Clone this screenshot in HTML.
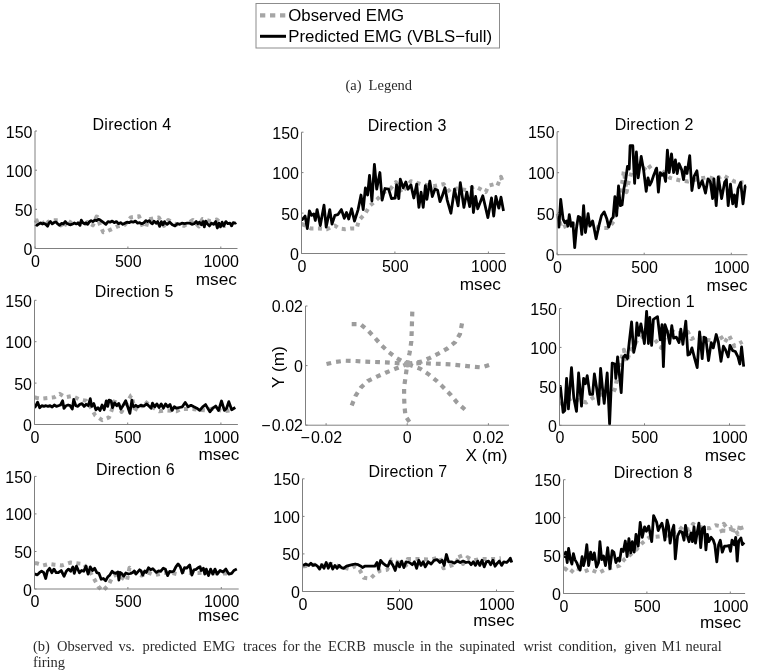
<!DOCTYPE html>
<html><head><meta charset="utf-8"><style>
html,body{margin:0;padding:0;background:#fff;}
body{width:757px;height:671px;overflow:hidden;}
svg{display:block;filter:blur(0.35px);}
.t{font-family:"Liberation Sans",sans-serif;font-size:16px;fill:#000;}
.ti{font-family:"Liberation Sans",sans-serif;font-size:16px;letter-spacing:0.22px;fill:#000;}
.lb{font-family:"Liberation Sans",sans-serif;font-size:17.2px;fill:#000;}
.lg{font-family:"Liberation Sans",sans-serif;font-size:16.8px;fill:#000;}
.c{font-family:"Liberation Serif",serif;font-size:14.5px;fill:#2a2a2a;}
.g{fill:none;stroke:#a6a6a6;stroke-width:4;stroke-dasharray:4 4.5;stroke-linejoin:round;}
.g2{fill:none;stroke:#9c9c9c;stroke-width:4.2;stroke-dasharray:4.8 5;}
.k{fill:none;stroke:#000;stroke-width:2.8;stroke-linejoin:round;}
.ax{fill:none;stroke:#808080;stroke-width:1;}
.tk{fill:none;stroke:#808080;stroke-width:1;}
</style></head><body>
<svg width="757" height="671" viewBox="0 0 757 671">
<polyline class="g" points="35.5,220.3 35.8,220.3 36,221.1 40.6,219.3 44.8,226.2 48.5,221.6 53.1,220.2 58.7,220.2 63.3,228.5 67,220.2 71.6,223 75.3,222.5 79,223.4 83.7,225.3 87.4,222 92.9,225.3 96.6,216.5 97.4,216.9 100,224.8 103.2,232.2 106.4,231.7 117.5,226.4 124.9,224.8 130.7,217.4 139.1,216.3 142.8,226.9 146,227.4 148.1,219.5 158.7,217.4 164,225.9 168.2,220 174.5,223.7 184,225.9 193,220 198.8,226.4 202.5,219 210.4,221.1 216.8,219.5 224.2,225.9 232.6,224.8"/>
<polyline class="k" points="35.5,224.7 35.6,224.8 36.9,225.3 38.8,223.9 40.6,223 42.5,223.9 43.9,223.4 45.7,224.3 47.6,226.2 49,223 50.4,221.6 52.2,223.9 54.1,222.5 55.9,222 57.8,223.9 59.6,225.3 61.5,223.4 63.3,223.9 65.2,221.6 67,223.4 68.9,224.3 70.7,224.8 72.6,223.9 74.4,223 76.3,223.9 78.1,223 80,225.3 81.3,220.2 82.7,222.5 84.6,223.9 86,223 87.8,224.3 89.2,222 91.1,220.6 92.9,221.6 94.8,220.2 96.6,220.6 98.5,219.3 99.5,219.5 101.6,221.1 103.7,222.7 105.9,224.3 108,221.6 110.1,222.2 112.2,221.1 114.3,222.7 116.4,221.6 118.5,223.7 120.6,222.7 122.8,224.3 124.9,223.2 127,222.2 129.1,222.7 131.2,221.6 133.3,222.2 135.4,221.1 137.6,223.2 139.7,222.7 141.8,223.7 143.9,222.7 146,220.6 147.6,221.6 149.2,220.6 150.8,222.7 152.4,223.7 153.9,221.1 156.1,223.2 157.6,221.6 159.7,226.4 161.3,221.6 162.9,224.8 164.5,221.6 165,222.7 167.1,224.3 169.8,222.2 172.4,224.8 175,225.9 177.2,223.7 179.8,224.3 181.9,223.2 184.6,223.7 187.2,223.2 189.8,223.2 191.9,224.3 194.1,223.7 196.2,221.6 197.8,223.7 199.3,222.2 201.5,224.8 203,221.6 204.3,226.9 205.7,221.1 207.3,223.7 209.4,225.9 211.5,223.2 213.6,224.3 215.7,221.6 217.3,228 218.9,223.2 220.5,226.9 222.1,222.2 223.7,225.9 225.8,221.6 227.9,223.7 230,223.2 231.6,225.9 233.2,222.7 235.3,223.2 236.1,222.5"/>
<path class="ax" d="M35 131V248.5H237.5"/>
<path class="tk" d="M35 248.5h2"/>
<text class="t" x="32.5" y="255" text-anchor="end">0</text>
<path class="tk" d="M35 209.3h2"/>
<text class="t" x="32.5" y="215.8" text-anchor="end">50</text>
<path class="tk" d="M35 170.2h2"/>
<text class="t" x="32.5" y="176.7" text-anchor="end">100</text>
<path class="tk" d="M35 131h2"/>
<text class="t" x="32.5" y="137.5" text-anchor="end">150</text>
<path class="tk" d="M35 248.5v-2"/>
<text class="t" x="35.4" y="266.5" text-anchor="middle">0</text>
<path class="tk" d="M127.9 248.5v-2"/>
<text class="t" x="128.3" y="266.5" text-anchor="middle">500</text>
<path class="tk" d="M220.8 248.5v-2"/>
<text class="t" x="221.2" y="266.5" text-anchor="middle">1000</text>
<text class="ti" x="92.6" y="130.3">Direction 4</text>
<text class="lb" x="195.8" y="284.6">msec</text>
<polyline class="g" points="302,224.1 302.2,224.1 310.9,228.5 318.9,228.5 326.9,229.2 334.9,225.6 339.2,228.5 345,229.2 350.9,228.5 356.7,228.5 358.8,220.5 365.4,213.2 369.7,205.9 377,199.4 384.3,192.1 390.1,189.2 395.9,182 401.7,192.9 410.9,181.2 421.1,184.1 433.4,186.3 443.6,184.1 450.1,192.1 456.7,188.5 466.1,190 474.8,186.3 479.2,188.5 485.7,192.1 488.6,185.6 494.4,184.1 497.4,185.6 501,176.9 503.2,183.4"/>
<polyline class="k" points="302,219.7 302.2,219.7 305.1,216.1 307.3,228.5 309.4,211 311.6,215.4 313.8,213.9 315.3,220.5 317.1,209.6 320.3,225.6 324,205.2 326.2,227 329.8,209.6 332,224.1 334.9,215.4 337.8,214.7 341.4,209.6 344.3,218.3 346.5,212.5 348.7,219 351.6,208.8 354.5,221.2 358.1,209.6 361,195 363.2,209.6 365.4,187.8 367.6,195 369.5,175.4 371.9,200.9 374.4,164.5 376.7,189.2 379.9,172.5 382.1,200.1 385,188.5 388.6,189.2 391.5,198.7 395.2,198 396.6,184.9 398.8,198.7 400.3,179.1 403.2,187.8 405.8,182 408,189.2 410.9,184.9 413.8,198 416.7,184.1 418.9,207.4 421.1,192.1 423.2,207.4 425.4,185.6 426.9,199.4 429.8,181.2 432.3,196.5 434.9,189.2 437.5,190 440,201.6 442.1,196.5 445,187.8 447.2,200.1 450.9,213.2 454.5,189.2 458.1,205.9 460.3,182.7 463.9,207.4 466.8,192.1 469.7,206.7 471.9,186.3 473.4,212.5 475.6,196.5 477.7,208.8 482.8,195.8 487.9,217.6 491.5,198 493.7,216.1 495.9,196.5 498.8,208.1 501,197.2 503.5,211"/>
<path class="ax" d="M301.5 132.2V253.5H505.2"/>
<path class="tk" d="M301.5 253.5h2"/>
<text class="t" x="299" y="260" text-anchor="end">0</text>
<path class="tk" d="M301.5 213.1h2"/>
<text class="t" x="299" y="219.6" text-anchor="end">50</text>
<path class="tk" d="M301.5 172.6h2"/>
<text class="t" x="299" y="179.1" text-anchor="end">100</text>
<path class="tk" d="M301.5 132.2h2"/>
<text class="t" x="299" y="138.7" text-anchor="end">150</text>
<path class="tk" d="M301.5 253.5v-2"/>
<text class="t" x="301.9" y="271.5" text-anchor="middle">0</text>
<path class="tk" d="M394.9 253.5v-2"/>
<text class="t" x="395.3" y="271.5" text-anchor="middle">500</text>
<path class="tk" d="M488.4 253.5v-2"/>
<text class="t" x="488.8" y="271.5" text-anchor="middle">1000</text>
<text class="ti" x="367.7" y="131.2">Direction 3</text>
<text class="lb" x="459.8" y="289.5">msec</text>
<polyline class="g" points="557.6,213.7 557.7,213.7 561.3,228 565.7,226.2 571.1,224.4 578.3,222.7 590.8,224.4 599.7,228 608.7,228 614,220.9 619.4,195.8 622.1,183.3 623.9,170.8 625.7,185.1 626.6,192.2 628.3,183.3 631.9,170.8 639.1,170.8 644.4,169 648,164.5 652.5,170.8 661.1,169.9 670,177.9 680.8,180.6 687.9,181.5 698.7,178.8 708.5,177 715.7,179.7 722.8,175.3 734.4,181.5 743.4,182.4"/>
<polyline class="k" points="557.6,217.3 558.2,217.3 558.9,227.1 560.7,199.4 563.1,219.1 564.8,222.7 566.6,220.9 567.9,226.2 569.3,214.6 571.1,226.2 572.9,222.7 574.7,247.7 576.5,228 578.3,216.4 580,217.3 581.8,234.3 583.6,205.7 585.4,232.5 588.1,213.7 589.9,226.2 592.6,220.9 594.4,229.8 596.1,238.8 598.8,226.2 601.5,215.5 604.2,211.9 606.9,219.1 608.7,227.1 611.4,219.1 613.1,217.3 614.9,196.7 616.7,215.5 618.5,186 620.3,205.7 622.1,204.8 623.9,188.7 625.7,179.7 627.5,166.3 629.2,169 630.1,145.7 632.8,145.7 634.6,183.3 636.4,152 638.2,177.9 641.2,156.5 643.6,169.9 646.2,191.4 648,177.9 649.8,185.1 651.6,181.5 653.4,176.1 656.6,168.1 658.4,192.2 660.2,172.6 662,175.3 663.8,173.5 665.6,181.5 667.4,150.2 669.2,172.6 671.5,153.8 673.6,172.6 675.4,160 677.2,173.5 679,163.6 681.7,169.9 683.5,179.7 685.3,167.2 687,173.5 689.7,155.6 691.9,190.5 694.2,176.1 696.9,170.8 699,187.8 702.2,180.6 705.5,193.1 708,178.8 710.3,181.5 712.6,198.5 713.9,178.8 716.2,205.7 718.3,177 721.6,198.5 724.6,182.4 726.4,179.7 728.2,205.7 730.5,184.2 732.7,203.9 734.4,194.9 736.2,206.6 738,188.7 740.7,182.4 743,203.9 745.2,186 746.1,186"/>
<path class="ax" d="M557.1 131.7V254.7H747.4"/>
<path class="tk" d="M557.1 254.7h2"/>
<text class="t" x="554.6" y="261.2" text-anchor="end">0</text>
<path class="tk" d="M557.1 213.7h2"/>
<text class="t" x="554.6" y="220.2" text-anchor="end">50</text>
<path class="tk" d="M557.1 172.7h2"/>
<text class="t" x="554.6" y="179.2" text-anchor="end">100</text>
<path class="tk" d="M557.1 131.7h2"/>
<text class="t" x="554.6" y="138.2" text-anchor="end">150</text>
<path class="tk" d="M557.1 254.7v-2"/>
<text class="t" x="557.5" y="272.7" text-anchor="middle">0</text>
<path class="tk" d="M644.2 254.7v-2"/>
<text class="t" x="644.6" y="272.7" text-anchor="middle">500</text>
<path class="tk" d="M731.3 254.7v-2"/>
<text class="t" x="731.7" y="272.7" text-anchor="middle">1000</text>
<text class="ti" x="614.8" y="129.6">Direction 2</text>
<text class="lb" x="706.6" y="290.5">msec</text>
<polyline class="g" points="35,397.6 35.8,397.6 36.9,398 41.1,398.7 48,398 54.3,397.3 59.8,393.9 65.4,397.3 72.3,396 79.2,399.4 86.2,400.8 91,407.7 95.2,415.4 102.1,420.2 109.1,417.4 111.8,409.8 115.3,399.4 121.5,411.9 131.2,395.3 131.5,395.2 134.4,408.2 138.7,410.4 144.5,401 151.8,406.8 159.1,411.2 164.9,410.4 176.5,411.2 180.9,409 192.5,409 205.6,410.4 214.3,408.2 223,411.2 230.3,410.4"/>
<polyline class="k" points="35,407.1 35.1,407.1 35.5,406.4 37.6,402.2 39.7,407.7 41.8,405.7 43.9,406.4 46,405.7 48,406.4 50.1,405.7 52.2,407 54.3,405 56.4,406.4 58.4,405.7 60.5,405 62.6,400.8 64,408.4 66.1,405.7 68.1,405 70.2,405.7 72.3,409.1 73.7,399.4 75.8,405.7 77.9,406.4 79.9,404.3 82,403.6 84.1,406.4 86.2,404.3 88.3,405.7 90.3,398.7 91.7,406.4 93.8,403.6 95.9,409.8 98,407.7 100,410.5 102.1,405 104.2,409.8 106.3,400.8 107.7,406.4 109.1,400.1 111.1,400.8 112.5,407.7 114.6,402.9 116.7,405.7 118.8,403.6 120.8,409.1 122.9,405.7 125.7,400.8 127.8,407 129.9,413.3 131.9,400.1 132.2,403.2 133.6,406.8 135.8,405.3 138,406.8 140.9,405.3 143.8,406.1 146.7,403.9 148.9,406.1 151.1,408.2 152.5,403.2 154.7,406.8 156.9,403.9 159.1,407.5 161.2,403.9 163.4,408.2 165.6,403.9 167.8,406.8 170,404.6 172.1,410.4 174.3,406.8 176.5,408.2 179.4,407.5 182.3,406.8 185.2,402.4 188.1,406.8 191,405.3 193.9,406.8 196.8,408.2 199.7,410.4 202.7,406.8 205.6,404.6 209.9,411.9 212.8,408.2 215.7,406.1 218.6,410.4 221.5,401 224.4,410.4 226.6,408.2 228.8,401.7 231.7,409.7 235.3,407.5"/>
<path class="ax" d="M34.5 300.3V424.5H237.9"/>
<path class="tk" d="M34.5 424.5h2"/>
<text class="t" x="32" y="431" text-anchor="end">0</text>
<path class="tk" d="M34.5 383.1h2"/>
<text class="t" x="32" y="389.6" text-anchor="end">50</text>
<path class="tk" d="M34.5 341.7h2"/>
<text class="t" x="32" y="348.2" text-anchor="end">100</text>
<path class="tk" d="M34.5 300.3h2"/>
<text class="t" x="32" y="306.8" text-anchor="end">150</text>
<path class="tk" d="M34.5 424.5v-2"/>
<text class="t" x="34.9" y="442.5" text-anchor="middle">0</text>
<path class="tk" d="M127.7 424.5v-2"/>
<text class="t" x="128.1" y="442.5" text-anchor="middle">500</text>
<path class="tk" d="M220.9 424.5v-2"/>
<text class="t" x="221.3" y="442.5" text-anchor="middle">1000</text>
<text class="ti" x="94.8" y="296.7">Direction 5</text>
<text class="lb" x="198.4" y="460.3">msec</text>
<polyline class="g" points="560,403.4 562.2,403.4 572,398 580,400.7 586.3,402.5 592.6,398 601.5,394.4 612.2,394.4 614.9,389.1 616.7,380.1 620.3,362.2 623.9,349.7 626.6,362.2 630.1,351.5 638.2,339 644.4,335.4 652.5,336.3 661.1,347.9 668.3,328.3 676.3,333.6 687.9,331.8 691.5,339 696.9,336.3 705.8,339.9 715.7,340.8 720.1,335.4 724.6,342.6 729.1,335.4 734.4,346.1 742.5,341.7"/>
<polyline class="k" points="560,386.4 560.4,386.4 563.1,412.3 564.8,410.5 566.6,378.3 568.4,408.8 571.5,367.6 573.8,398 576.5,411.4 578.6,373 581.5,406.1 583.6,378.3 585.4,383.7 587.2,375.7 589.9,394.4 592.6,394.4 594.4,373.9 596.5,387.3 598.8,404.3 600.6,368.5 602.4,387.3 604.2,403.4 607.2,373 609.6,424 612.2,363.1 614.9,364 615.8,378.3 617.6,356.9 619.4,374.8 621.2,392.7 623,357.8 625.1,355.1 627.5,358.7 629.2,342.6 631.6,322 633.7,352.4 635.5,344.4 636.9,322.9 638.7,335.4 640.9,323.8 642.7,333.6 644.4,343.5 646.6,311.3 648.4,343.5 649.8,317.5 651.6,345.3 653.4,319.3 657.5,316.6 660.2,339.9 662,324.7 663.4,366.7 665,324.7 667.4,331.8 669.7,343.5 671.8,325.6 673.6,338.1 676.3,337.2 679,342.6 680.8,329.2 682.9,344.4 685.8,321.1 687.9,355.1 689.7,354.2 691.9,347.9 694.7,358.7 697.2,367.6 699.6,331.8 702.2,358.7 704,337.2 705.8,338.1 708.5,360.5 711.2,342.6 713.3,347.9 716.2,334.5 718.3,341.7 721,361.4 723.4,346.1 725.5,349.7 728.2,356.9 730,345.3 732.7,350.6 735.3,351.5 738,356.9 739.8,364 741.6,347 743.7,366.7"/>
<path class="ax" d="M559.5 308.5V425.3H745.4"/>
<path class="tk" d="M559.5 425.3h2"/>
<text class="t" x="557" y="431.8" text-anchor="end">0</text>
<path class="tk" d="M559.5 386.4h2"/>
<text class="t" x="557" y="392.9" text-anchor="end">50</text>
<path class="tk" d="M559.5 347.4h2"/>
<text class="t" x="557" y="353.9" text-anchor="end">100</text>
<path class="tk" d="M559.5 308.5h2"/>
<text class="t" x="557" y="315" text-anchor="end">150</text>
<path class="tk" d="M559.5 425.3v-2"/>
<text class="t" x="559.9" y="443.3" text-anchor="middle">0</text>
<path class="tk" d="M644.5 425.3v-2"/>
<text class="t" x="644.9" y="443.3" text-anchor="middle">500</text>
<path class="tk" d="M729.5 425.3v-2"/>
<text class="t" x="729.9" y="443.3" text-anchor="middle">1000</text>
<text class="ti" x="615.9" y="306.6">Direction 1</text>
<text class="lb" x="704.7" y="460.5">msec</text>
<polyline class="g" points="35,563.2 36.5,563.2 43.1,565.4 48.9,564 54.7,564.7 62,565.4 70.7,562.5 76.5,563.2 83.8,564 91,573.4 93.9,578.5 98.3,586.5 102.7,590.9 108.5,585 112.8,576.3 117.2,574.1 124.2,579.3 126.9,580.9 129.5,567.7 131.6,570.3 136.9,573.5 141.7,575.6 147.5,572.4 154.9,575.1 163.9,573 169.7,572.4 176.5,574 183.4,571.9 190.8,573 198.2,573 205.6,572.7 220.1,573.4 231.7,573.4"/>
<polyline class="k" points="35,574.1 35.1,574.1 37.3,574.9 39.4,572.7 41.6,571.2 43.8,572.7 45.7,578.5 47.4,571.2 49.6,568.3 51.8,572.7 54,569.1 56.2,572.7 58.3,572.7 61.2,570.5 64.1,576.3 66.3,571.2 68.5,569.1 70.7,571.2 72.9,566.9 74.3,573.4 76.5,566.2 79.4,572.7 81.6,570.5 83.8,571.2 85.9,566.2 88.1,574.1 90.3,566.9 92.5,570.5 94.7,568.3 96.8,572.7 99,573.4 101.2,579.2 103.4,578.5 105.6,580.7 107.7,577.1 109.9,574.9 112.1,571.2 113.6,572.7 115.7,573.4 117.9,572 118.9,580 120,572.4 121.6,573.5 123.7,576.1 125.8,573 128.5,574 130.6,573.5 132.7,572.4 134.3,570.9 135.9,574 137.4,572.4 139.6,569.8 141.1,570.9 142.7,575.1 144.8,570.9 146.4,572.4 148.5,567.7 150.6,569.8 152.8,568.7 154.9,570.9 156.5,572.4 158.6,570.9 160.7,571.4 163.3,568.2 165.4,569.3 167.6,575.6 169.7,571.4 171.8,571.9 173.9,570.9 176,566.6 178.1,564 180.2,566.6 182.4,573 184.5,567.7 186.6,568.2 189.7,565 191.9,575.1 194,569.8 196.1,569.3 198.2,567.7 200,566.6 201.2,570.5 203.4,568.3 204.8,574.1 206.3,569.1 208.5,575.6 210.6,569.1 212.8,574.1 215,569.1 217.2,574.1 220.1,570.5 223,572 225.9,569.1 228.8,574.1 231.7,573.4 233.9,570.5 236.8,569.1"/>
<path class="ax" d="M34.5 476.4V589H238.7"/>
<path class="tk" d="M34.5 589h2"/>
<text class="t" x="32" y="595.5" text-anchor="end">0</text>
<path class="tk" d="M34.5 551.5h2"/>
<text class="t" x="32" y="558" text-anchor="end">50</text>
<path class="tk" d="M34.5 513.9h2"/>
<text class="t" x="32" y="520.4" text-anchor="end">100</text>
<path class="tk" d="M34.5 476.4h2"/>
<text class="t" x="32" y="482.9" text-anchor="end">150</text>
<path class="tk" d="M34.5 589v-2"/>
<text class="t" x="34.9" y="607" text-anchor="middle">0</text>
<path class="tk" d="M127.9 589v-2"/>
<text class="t" x="128.3" y="607" text-anchor="middle">500</text>
<path class="tk" d="M221.3 589v-2"/>
<text class="t" x="221.7" y="607" text-anchor="middle">1000</text>
<text class="ti" x="95.9" y="474.7">Direction 6</text>
<text class="lb" x="198" y="621.4">msec</text>
<polyline class="g" points="303,566.2 304.4,566.2 314.5,564.7 323.2,565.4 332,564 340.7,566.9 349.4,569.1 355.2,566.2 359.6,569.8 363.9,577.8 370.5,578.5 375.6,573.4 380.6,570.5 387.2,569.8 391.5,559.6 400.3,563.2 406.1,565.4 407.9,558.9 418.1,558.9 430.4,559.6 439.9,557.4 443.5,568.3 455.9,564 459.5,554.5 463.1,564 467.5,557.4 473.3,560.3 480.6,558.9 486.4,558.9 495.1,558.9 500.9,558.2"/>
<polyline class="k" points="303,565.4 305.8,564 308.7,565.4 310.9,563.2 313.1,565.4 315.3,564.7 317.4,566.2 319.6,569.1 321.8,564.7 324,568.3 326.2,562.5 328.3,568.3 330.5,563.2 332.7,569.1 334.9,565.4 337.1,568.3 339.2,565.4 341.4,567.6 343.6,568.3 346.5,566.2 349.4,565.4 352.3,564.7 355.2,564 358.1,564.7 361,566.2 362.5,567.6 364.7,566.2 368.3,566.2 372.7,566.2 374.8,566.2 377,562.5 378.5,569.1 380.6,560.3 382.8,563.2 385.7,565.4 387.9,566.2 390.1,561.1 393,565.4 395.2,570.5 397.4,562.5 399.5,566.9 401.7,561.1 403.9,567.6 406.1,561.8 409.4,562.5 412.3,564.7 414.4,561.8 416.6,568.3 418.8,560.3 421,565.4 423.2,561.8 425.3,566.9 428.2,561.8 431.2,564 434.1,560.3 437,559.6 439.9,562.5 442.1,560.3 444.2,565.4 446.4,554.5 448.6,561.8 451.5,561.8 454.4,563.2 457.3,561.1 460.2,562.5 463.1,561.1 466,562.5 468.9,561.8 471.1,564.7 473.3,561.8 475.5,565.4 477.7,561.1 479.8,565.4 482,560.3 484.2,566.9 486.4,561.8 488.6,561.1 490.7,564.7 492.9,560.3 495.1,566.2 497.3,563.2 499.4,561.1 501.6,565.4 503.8,561.8 506.7,562.5 508.9,560.3 510.3,558.2 511.8,562.5"/>
<path class="ax" d="M302.5 478.8V591.5H514.1"/>
<path class="tk" d="M302.5 591.5h2"/>
<text class="t" x="300" y="598" text-anchor="end">0</text>
<path class="tk" d="M302.5 553.9h2"/>
<text class="t" x="300" y="560.4" text-anchor="end">50</text>
<path class="tk" d="M302.5 516.4h2"/>
<text class="t" x="300" y="522.9" text-anchor="end">100</text>
<path class="tk" d="M302.5 478.8h2"/>
<text class="t" x="300" y="485.3" text-anchor="end">150</text>
<path class="tk" d="M302.5 591.5v-2"/>
<text class="t" x="302.9" y="609.5" text-anchor="middle">0</text>
<path class="tk" d="M399.5 591.5v-2"/>
<text class="t" x="399.9" y="609.5" text-anchor="middle">500</text>
<path class="tk" d="M496.5 591.5v-2"/>
<text class="t" x="496.9" y="609.5" text-anchor="middle">1000</text>
<text class="ti" x="368.4" y="476.9">Direction 7</text>
<text class="lb" x="473.3" y="625.5">msec</text>
<polyline class="g" points="564,568.6 565.2,568.6 570.4,573 574.9,567.8 579.4,569.3 584.6,571.5 589.8,569.3 598.7,573 605.5,569.3 612.2,567.8 619.6,565.6 624.1,559.6 630,555.1 636.8,549.2 642,543.2 649.4,537.3 658.9,536.5 666.4,535.8 679.8,529.8 682.8,526.1 688.7,529.8 693.2,523.8 697.7,526.8 709.6,528.3 715.6,525.3 720,526.1 723,535 723.8,523.8 726,526.8 730.5,526.8 732,533.5 734.2,527.6 737.9,534.3 740.2,523.8 742.4,531.3"/>
<polyline class="k" points="564,556.6 564.2,556.6 565.7,552.2 567.2,562.6 568.6,548.4 570.4,559.6 571.9,564.1 573.4,553.7 574.9,559.6 576.7,562.6 578.6,567.8 580.1,570 582.1,556.6 583.5,565.6 585,559.6 586.8,544.7 588.6,565.6 590.6,552.2 592.5,559.6 594.3,552.9 596.5,567.1 598.5,562.6 599.9,541.7 601.7,559.6 603.5,555.9 605.5,565.6 607.7,547.7 609.9,568.6 612.2,550.7 613.9,552.2 615.9,562.6 618.1,558.1 619.6,561.1 621.4,549.2 623.3,551.4 625.3,541 627.1,556.6 628.9,538.7 630.8,552.9 632.3,541.7 634.2,552.2 636,534.3 638.2,546.2 640.2,522.4 642.3,537.3 644.6,526.8 646.4,531.3 648.7,526.1 651.7,541.7 653.6,515.6 656.7,522.4 658.2,530.6 660.1,526.1 661.9,523.1 663.4,529.8 664.9,540.2 667.1,520.1 668.6,526.1 670.1,543.2 672.4,529.8 673.8,525.3 675.3,558.9 677.6,535.8 679.8,531.3 682,532 684,540.2 685.5,525.3 687.3,535.8 689,541.7 691,532.8 692.5,541.7 694,526.8 695.5,543.2 696.9,534.3 698.9,523.1 700.7,547.7 702.5,528.3 704.4,526.8 705.9,549.9 707.4,534.3 708.9,541.7 711.1,537.3 713.3,540.2 714.8,544.7 716.8,561.8 718.6,544.7 720.3,540.2 722.3,552.2 724.5,546.2 726.8,546.2 729,545.5 730.5,551.4 732,540.2 734.2,544.7 735.7,537.3 737.2,561.1 738.7,541 740.9,538 742.4,544.7 744.2,542.5"/>
<path class="ax" d="M563.5 479.7V593.5H745.1"/>
<path class="tk" d="M563.5 593.5h2"/>
<text class="t" x="561" y="600" text-anchor="end">0</text>
<path class="tk" d="M563.5 555.6h2"/>
<text class="t" x="561" y="562.1" text-anchor="end">50</text>
<path class="tk" d="M563.5 517.6h2"/>
<text class="t" x="561" y="524.1" text-anchor="end">100</text>
<path class="tk" d="M563.5 479.7h2"/>
<text class="t" x="561" y="486.2" text-anchor="end">150</text>
<path class="tk" d="M563.5 593.5v-2"/>
<text class="t" x="563.9" y="611.5" text-anchor="middle">0</text>
<path class="tk" d="M646.9 593.5v-2"/>
<text class="t" x="647.3" y="611.5" text-anchor="middle">500</text>
<path class="tk" d="M730.3 593.5v-2"/>
<text class="t" x="730.7" y="611.5" text-anchor="middle">1000</text>
<text class="ti" x="613.8" y="477.6">Direction 8</text>
<text class="lb" x="700" y="627.6">msec</text>
<polyline class="g2" points="412.3,311.6 412,321.3 411.7,331.9 411.3,341.6 409.7,352.3 407.3,364"/>
<polyline class="g2" points="351.7,324.2 360.4,324.2 368.1,330.6 374.9,337.8 381.7,345.5 388.5,351.9 396.2,357.8 407.3,364"/>
<polyline class="g2" points="326.5,364 335.2,362 344.9,360.7 355.5,361 365.2,361.6 374.9,362 385.6,362.4 395.3,363 407.3,364"/>
<polyline class="g2" points="351.7,405.6 355.5,395.9 360.8,387.6 367.8,381 376.9,376.6 385.6,372.7 395.3,368.8 407.3,364"/>
<polyline class="g2" points="409.4,421.9 405.5,416.1 404.5,406.4 404.1,396.8 404.1,387.1 405.5,377.4 407.3,364"/>
<polyline class="g2" points="462,323.3 460,333.9 455.2,342.2 447.5,348.4 438.8,353.3 430,357.8 421.3,361.6 407.3,364"/>
<polyline class="g2" points="489.1,364.9 481.4,367.4 471.7,366.5 462,365.5 451.4,364.5 441.7,364 432,363.6 421.3,363 407.3,364"/>
<polyline class="g2" points="464.9,409.5 457.2,402.7 450.8,395 444.2,388.2 436.8,381 429,374.6 420.3,368.8 407.3,364"/>
<circle cx="407.5" cy="364" r="3.6" fill="#a6a6a6"/>
<path class="ax" d="M305.5 306V425.2H509"/>
<path class="tk" d="M305.5 306h2"/>
<text class="t" x="303" y="312" text-anchor="end">0.02</text>
<path class="tk" d="M305.5 365.6h2"/>
<text class="t" x="303" y="371.6" text-anchor="end">0</text>
<path class="tk" d="M305.5 425.1h2"/>
<text class="t" x="303" y="431.1" text-anchor="end">−<tspan dx="1.2">0.02</tspan></text>
<text class="t" x="321.3" y="443.2" text-anchor="middle">−<tspan dx="1.2">0.02</tspan></text>
<text class="t" x="407.2" y="443.2" text-anchor="middle">0</text>
<text class="t" x="488.4" y="443.2" text-anchor="middle">0.02</text>
<path class="tk" d="M326.1 425.2v-2"/>
<path class="tk" d="M407.2 425.2v-2"/>
<path class="tk" d="M488.4 425.2v-2"/>
<text class="lb" x="465.4" y="461.3">X (m)</text>
<text class="lb" transform="translate(283.8 388) rotate(-90)">Y (m)</text>
<rect x="256" y="3.5" width="243.5" height="44.5" fill="#fff" stroke="#8c8c8c" stroke-width="1"/>
<path d="M260 15.3H285.4" stroke="#a6a6a6" stroke-width="4.2" stroke-dasharray="5.3 4.7" fill="none"/>
<path d="M260 36.3H286" stroke="#000" stroke-width="3" fill="none"/>
<text class="lg" x="288.3" y="20.8">Observed EMG</text>
<text class="lg" x="288.3" y="42.3">Predicted EMG (VBLS−full)</text>
<text class="c" x="345.5" y="89.6">(a)</text>
<text class="c" x="368.6" y="89.6">Legend</text>
<text class="c" x="33" y="650.8">(b)</text>
<text class="c" x="57.1" y="650.8">Observed</text>
<text class="c" x="118.4" y="650.8">vs.</text>
<text class="c" x="142.5" y="650.8">predicted</text>
<text class="c" x="203.1" y="650.8">EMG</text>
<text class="c" x="242.9" y="650.8">traces</text>
<text class="c" x="282.6" y="650.8">for</text>
<text class="c" x="303.4" y="650.8">the</text>
<text class="c" x="328.1" y="650.8">ECRB</text>
<text class="c" x="373.3" y="650.8">muscle</text>
<text class="c" x="420" y="650.8">in</text>
<text class="c" x="435.3" y="650.8">the</text>
<text class="c" x="459.5" y="650.8">supinated</text>
<text class="c" x="523.4" y="650.8">wrist</text>
<text class="c" x="558.2" y="650.8">condition,</text>
<text class="c" x="624.2" y="650.8">given</text>
<text class="c" x="661.7" y="650.8">M1</text>
<text class="c" x="685.5" y="650.8">neural</text>
<text class="c" x="32.9" y="666.7">firing</text>
</svg>
</body></html>
